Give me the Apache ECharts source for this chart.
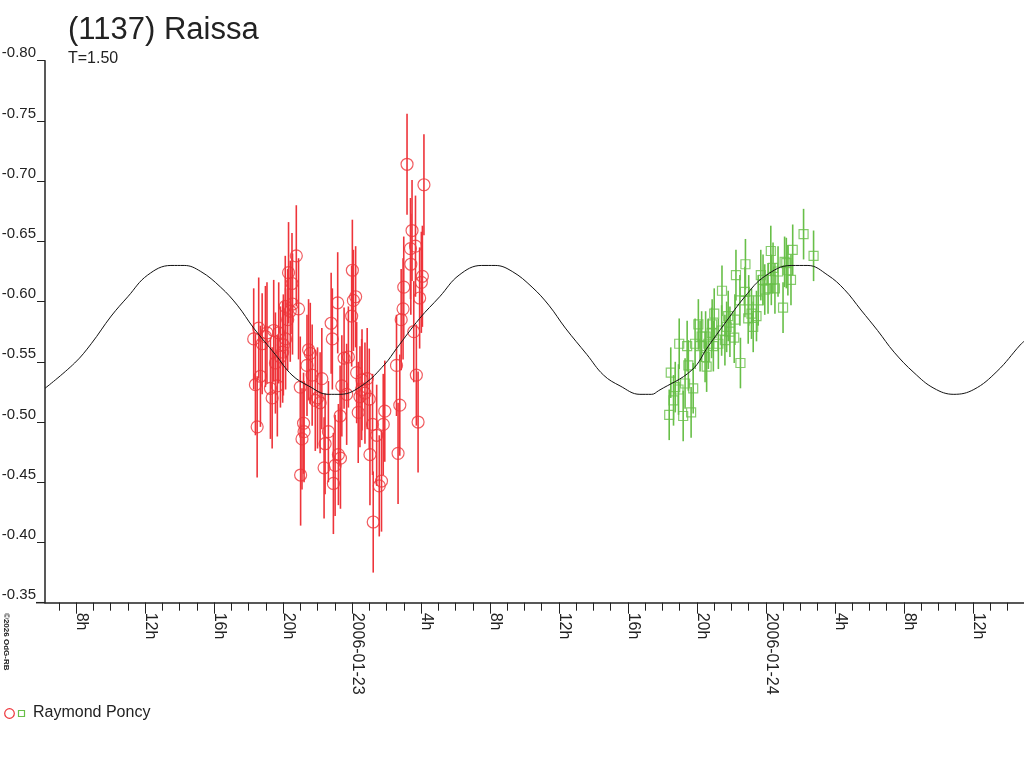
<!DOCTYPE html>
<html><head><meta charset="utf-8">
<script src="https://cdn.jsdelivr.net/npm/echarts@6/dist/echarts.min.js"></script>
<style>html,body{margin:0;padding:0;background:#fff}#c{width:1024px;height:768px}</style>
</head><body><div id="c"></div>
<script>
// Hours since 2006-01-22 00:00 UT, reduced magnitude
const redTimes = [18.30,18.40,18.50,18.59,18.69,18.79,18.98,19.07,19.27,19.37,19.46,19.56,19.67,19.75,19.85,19.98,20.02,20.13,20.15,20.27,20.32,20.42,20.52,20.55,20.77,20.90,21.00,21.02,21.10,21.19,21.22,21.39,21.48,21.58,21.69,21.87,22.00,22.15,22.25,22.38,22.44,22.63,22.79,22.86,22.92,23.02,23.17,23.21,23.31,23.33,23.41,23.54,23.69,23.79,23.98,24.02,24.08,24.21,24.27,24.36,24.46,24.56,24.58,24.75,24.88,25.00,25.04,25.19,25.23,25.43,25.58,25.71,25.81,25.90,26.58,26.67,26.77,26.85,26.96,27.00,27.19,27.39,27.41,27.48,27.58,27.68,27.73,27.83,27.92,28.02,28.08,28.17];
const redMags = [-0.569,-0.531,-0.496,-0.578,-0.538,-0.565,-0.571,-0.574,-0.528,-0.520,-0.576,-0.549,-0.530,-0.574,-0.554,-0.558,-0.564,-0.596,-0.569,-0.585,-0.624,-0.592,-0.615,-0.598,-0.638,-0.594,-0.529,-0.456,-0.486,-0.499,-0.492,-0.547,-0.560,-0.557,-0.539,-0.518,-0.520,-0.516,-0.536,-0.462,-0.482,-0.492,-0.582,-0.569,-0.449,-0.464,-0.599,-0.473,-0.505,-0.470,-0.530,-0.553,-0.523,-0.554,-0.588,-0.626,-0.601,-0.604,-0.541,-0.508,-0.521,-0.527,-0.535,-0.524,-0.536,-0.519,-0.473,-0.498,-0.417,-0.489,-0.447,-0.451,-0.498,-0.509,-0.547,-0.474,-0.514,-0.585,-0.594,-0.612,-0.714,-0.644,-0.631,-0.659,-0.575,-0.646,-0.539,-0.500,-0.603,-0.616,-0.621,-0.697];
const redErr = 0.042;

const greenTimes = [42.39,42.48,42.64,42.74,42.93,42.97,43.20,43.31,43.43,43.50,43.66,43.78,43.89,44.08,44.18,44.27,44.47,44.50,44.56,44.66,44.85,44.88,44.95,45.00,45.24,45.43,45.45,45.62,45.72,45.81,45.91,46.16,46.20,46.26,46.49,46.52,46.78,46.81,46.97,47.00,47.16,47.26,47.45,47.55,47.70,47.83,47.93,48.12,48.28,48.31,48.41,48.52,48.70,48.99,49.08,49.18,49.27,49.45,49.55,50.18,50.76];
const greenMags = [-0.506,-0.541,-0.518,-0.529,-0.527,-0.565,-0.505,-0.532,-0.563,-0.547,-0.508,-0.528,-0.565,-0.581,-0.563,-0.571,-0.554,-0.571,-0.546,-0.565,-0.574,-0.581,-0.563,-0.590,-0.565,-0.576,-0.609,-0.568,-0.579,-0.588,-0.575,-0.570,-0.585,-0.622,-0.601,-0.549,-0.608,-0.631,-0.586,-0.601,-0.590,-0.579,-0.588,-0.601,-0.622,-0.618,-0.610,-0.611,-0.642,-0.618,-0.628,-0.611,-0.625,-0.595,-0.633,-0.632,-0.626,-0.618,-0.643,-0.656,-0.638];
const greenErr = 0.021;

const curveTimes = [6.20,7.92,8.88,10.04,11.00,12.15,13.50,14.27,15.23,16.38,17.35,18.30,19.56,20.52,21.48,22.63,23.31,24.65,25.90,26.58,27.92,29.08,30.21,31.50,32.30,33.29,34.44,35.41,36.37,37.62,38.58,39.54,40.69,41.37,41.77,43.69,44.66,45.62,46.77,47.93,49.46,50.43,51.58,52.55,53.51,54.47,55.43,56.58,57.74,58.89,60.05,61.39,62.74,62.96];
const curveMags = [-0.528,-0.549,-0.565,-0.588,-0.604,-0.622,-0.630,-0.630,-0.625,-0.612,-0.597,-0.578,-0.556,-0.539,-0.530,-0.523,-0.523,-0.531,-0.548,-0.561,-0.586,-0.604,-0.622,-0.630,-0.630,-0.625,-0.612,-0.597,-0.578,-0.556,-0.539,-0.530,-0.523,-0.523,-0.526,-0.543,-0.563,-0.582,-0.604,-0.621,-0.630,-0.630,-0.622,-0.610,-0.593,-0.576,-0.558,-0.541,-0.528,-0.523,-0.527,-0.542,-0.564,-0.567];

const majorTickHours = [8,12,16,20,24,28,32,36,40,44,48,52,56,60];
const majorTickLabels = ['8h','12h','16h','20h','2006-01-23','4h','8h','12h','16h','20h','2006-01-24','4h','8h','12h'];
const minorTickHours = [7,8,9,10,11,12,13,14,15,16,17,18,19,20,21,22,23,24,25,26,27,28,29,30,31,32,33,34,35,36,37,38,39,40,41,42,43,44,45,46,47,48,49,50,51,52,53,54,55,56,57,58,59,60,61,62];

const RED = '#ee343a', GREEN = '#68bf48', INK = '#222';
const FONT = '"Liberation Sans", Arial, sans-serif';
const X_MIN = 6.2, X_MAX = 62.96;

function pairs(ts, vs) { return ts.map((t, i) => [t, vs[i]]); }
function errBars(err, color) {
  return function (params, api) {
    const x = api.value(0), y = api.value(1);
    const p1 = api.coord([x, y - err]);
    const p2 = api.coord([x, y + err]);
    return { type: 'line', shape: { x1: p1[0], y1: p1[1], x2: p2[0], y2: p2[1] },
      style: { stroke: color, lineWidth: 1.6 } };
  };
}

const chart = echarts.init(document.getElementById('c'), null, { renderer: 'canvas' });
chart.setOption({
  animation: false,
  backgroundColor: '#fff',
  title: {
    text: '(1137) Raissa', subtext: 'T=1.50', left: 63, top: 10, itemGap: 5,
    textStyle: { fontFamily: FONT, fontSize: 31, fontWeight: 'normal', color: INK },
    subtextStyle: { fontFamily: FONT, fontSize: 16, color: INK }
  },
  grid: { left: 45, right: 0, top: 60.7, bottom: 165.3, containLabel: false, outerBoundsMode: 'none' },
  xAxis: [{
    type: 'value', min: X_MIN, max: X_MAX, position: 'bottom',
    axisLine: { show: true, onZero: false, lineStyle: { color: INK, width: 1.5 } },
    axisTick: { show: true, customValues: majorTickHours, length: 11, lineStyle: { color: INK, width: 1 } },
    axisLabel: {
      show: true, customValues: majorTickHours, rotate: -90, margin: 10,
      verticalAlign: 'bottom', lineHeight: 10,
      fontFamily: FONT, fontSize: 16, color: INK,
      formatter: v => { const i = majorTickHours.indexOf(Math.round(v)); return i >= 0 ? majorTickLabels[i] : ''; }
    },
    splitLine: { show: false }
  }, {
    type: 'value', min: X_MIN, max: X_MAX, position: 'bottom', offset: 0,
    axisLine: { show: false, onZero: false },
    axisTick: { show: true, customValues: minorTickHours, length: 8, lineStyle: { color: INK, width: 1 } },
    axisLabel: { show: false },
    splitLine: { show: false }
  }],
  yAxis: {
    type: 'value', inverse: true, min: -0.80, max: -0.35, interval: 0.05,
    axisLine: { show: true, onZero: false, lineStyle: { color: INK, width: 1.5 } },
    axisTick: { show: true, length: 8, lineStyle: { color: INK, width: 1 } },
    axisLabel: { margin: 9, verticalAlign: 'bottom', fontFamily: FONT, fontSize: 15, color: INK,
      formatter: v => v.toFixed(2) },
    splitLine: { show: false }
  },
  series: [
    { type: 'custom', name: 'redErr', xAxisIndex: 0, data: pairs(redTimes, redMags), encode: { x: 0, y: 1 },
      renderItem: errBars(redErr, RED), z: 2 },
    { type: 'custom', name: 'greenErr', xAxisIndex: 0, data: pairs(greenTimes, greenMags), encode: { x: 0, y: 1 },
      renderItem: errBars(greenErr, GREEN), z: 2 },
    { type: 'scatter', name: 'Raymond Poncy', xAxisIndex: 0, data: pairs(redTimes, redMags), symbol: 'circle', symbolSize: 12,
      itemStyle: { color: 'rgba(0,0,0,0)', borderColor: RED, borderWidth: 1.2 }, z: 3 },
    { type: 'scatter', name: 'Raymond Poncy 2', xAxisIndex: 0, data: pairs(greenTimes, greenMags), symbol: 'rect', symbolSize: 9,
      itemStyle: { color: 'rgba(0,0,0,0)', borderColor: GREEN, borderWidth: 1.2 }, z: 3 },
    { type: 'line', name: 'fit', xAxisIndex: 0, data: pairs(curveTimes, curveMags), smooth: 0.4, showSymbol: false,
      lineStyle: { color: '#111', width: 1 }, z: 4 }
  ],
  graphic: [
    { type: 'line', shape: { x1: 36, y1: 602.7, x2: 45, y2: 602.7 }, style: { stroke: INK, lineWidth: 1.5 } },
    { type: 'circle', shape: { cx: 9.5, cy: 713.5, r: 4.8 }, style: { fill: 'none', stroke: RED, lineWidth: 1.2 } },
    { type: 'rect', shape: { x: 18.5, y: 710.5, width: 6, height: 6 }, style: { fill: 'none', stroke: GREEN, lineWidth: 1.2 } },
    { type: 'text', x: 33, y: 713, style: { text: 'Raymond Poncy', fontFamily: FONT, fontSize: 16, fill: INK, textVerticalAlign: 'middle' } },
    { type: 'text', x: 2, y: 613, rotation: -Math.PI / 2, style: { text: '©2026 OdG-RB', fontFamily: FONT, fontSize: 8, fontWeight: 'bold', fill: INK, textVerticalAlign: 'bottom' } }
  ]
});
</script></body></html>
